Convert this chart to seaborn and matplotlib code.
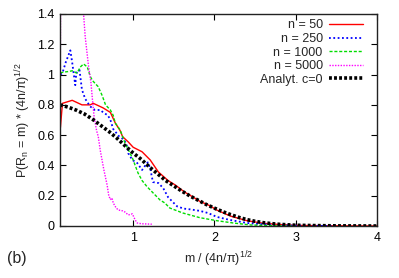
import numpy as np
import pandas as pd
import matplotlib
matplotlib.use("Agg")
import matplotlib.pyplot as plt
import seaborn as sns

# ---- data ----
x50 = [0.105, 0.13, 0.25, 0.37, 0.47, 0.51, 0.63, 0.72, 0.78, 0.84, 0.87, 0.94, 1.0, 1.11, 1.21,
       1.31, 1.43, 1.52, 1.63, 1.74, 1.82, 1.94, 2.03, 2.2, 2.4, 2.6, 2.8, 3.0, 3.3, 3.6, 4.0]
y50 = [0.65, 0.81, 0.83, 0.80, 0.80, 0.81, 0.78, 0.75, 0.68, 0.63, 0.59, 0.555, 0.52, 0.49, 0.436,
       0.357, 0.30, 0.27, 0.225, 0.19, 0.163, 0.135, 0.105, 0.065, 0.035, 0.018, 0.01, 0.004, 0.002, 0.001, 0.0]

x250 = [0.105, 0.13, 0.17, 0.227, 0.25, 0.288, 0.30, 0.34, 0.37, 0.41, 0.47, 0.53, 0.595, 0.632, 0.69,
        0.72, 0.755, 0.83, 0.89, 0.93, 0.94, 0.99, 1.05, 1.11, 1.15, 1.18, 1.21, 1.23, 1.245, 1.31,
        1.37, 1.43, 1.54, 1.62, 1.7, 1.82, 1.92, 2.03, 2.19, 2.4, 2.56, 2.8, 3.0, 3.5]
y250 = [1.00, 1.01, 1.08, 1.16, 1.08, 0.93, 1.01, 1.03, 0.90, 0.84, 0.79, 0.766, 0.766, 0.75, 0.73,
        0.70, 0.64, 0.59, 0.57, 0.52, 0.48, 0.436, 0.416, 0.37, 0.40, 0.42, 0.383, 0.324, 0.29, 0.284,
        0.25, 0.19, 0.13, 0.115, 0.11, 0.10, 0.086, 0.06, 0.04, 0.02, 0.013, 0.005, 0.002, 0.0]

x1000 = [0.105, 0.13, 0.2, 0.25, 0.31, 0.35, 0.39, 0.436, 0.47, 0.50, 0.57, 0.62, 0.66, 0.72, 0.755,
         0.78, 0.84, 0.9, 0.99, 1.06, 1.11, 1.17, 1.21, 1.27, 1.33, 1.39, 1.45, 1.61, 1.82, 2.03, 2.23,
         2.44, 2.7, 3.0]
y1000 = [1.01, 1.015, 1.02, 1.025, 1.01, 1.05, 1.07, 1.05, 0.99, 0.96, 0.92, 0.86, 0.80, 0.766, 0.73,
         0.68, 0.634, 0.548, 0.45, 0.35, 0.30, 0.26, 0.238, 0.205, 0.172, 0.152, 0.119, 0.086, 0.055,
         0.035, 0.02, 0.007, 0.002, 0.0]

x5000 = [0.103, 0.108, 0.15, 0.2, 0.3, 0.36, 0.39, 0.41, 0.45, 0.48, 0.50, 0.52, 0.55, 0.571, 0.595,
         0.64, 0.68, 0.70, 0.72, 0.74, 0.755, 0.79, 0.816, 0.87, 0.90, 0.94, 0.99, 1.025, 1.05, 1.1, 1.23]
y5000 = [0.98, 1.6, 2.3, 2.5, 2.0, 1.6, 1.40, 1.25, 1.06, 0.95, 0.83, 0.72, 0.63, 0.59, 0.50,
         0.37, 0.27, 0.20, 0.175, 0.185, 0.152, 0.12, 0.106, 0.10, 0.092, 0.073, 0.08, 0.04, 0.02, 0.015, 0.012]

xan = [0.1, 0.2, 0.3, 0.4, 0.5, 0.6, 0.7, 0.8, 0.9, 1.0, 1.1, 1.2, 1.3, 1.4, 1.5, 1.6, 1.7, 1.8,
       1.9, 2.0, 2.1, 2.2, 2.3, 2.4, 2.5, 2.6, 2.7, 2.8, 2.9, 3.0, 3.2, 3.5, 4.0]
yan = [0.80, 0.785, 0.765, 0.74, 0.705, 0.665, 0.625, 0.58, 0.53, 0.482, 0.44, 0.39, 0.345, 0.30,
       0.265, 0.23, 0.198, 0.17, 0.142, 0.118, 0.095, 0.075, 0.057, 0.042, 0.031, 0.022, 0.016,
       0.011, 0.008, 0.005, 0.003, 0.001, 0.0]

labels = ["n = 50", "n = 250", "n = 1000", "n = 5000", "Analyt. c=0"]
xticks = [1, 2, 3, 4]
yticks = [0, 0.2, 0.4, 0.6, 0.8, 1.0, 1.2, 1.4]
yticklabels = ["0", "0.2", "0.4", "0.6", "0.8", "1", "1.2", "1.4"]

sns.set_style("ticks")
plt.rcParams["font.family"] = ["Liberation Sans", "DejaVu Sans"]
plt.rcParams["mathtext.default"] = "regular"

fig = plt.figure(figsize=(3.99, 2.78), dpi=100)
ax = fig.add_axes([60 / 399, 1 - 226 / 278, 317 / 399, 212 / 278])

series = [
    (x50, y50, labels[0], "#ff0000", "-", 1.0),
    (x250, y250, labels[1], "#0000ff", (0, (1, 1.4)), 1.3),
    (x1000, y1000, labels[2], "#00dd00", (0, (2.2, 1.3)), 1.0),
    (x5000, y5000, labels[3], "#ff00ff", (0, (1, 1)), 1.0),
    (xan, yan, labels[4], "#000000", (0, (0.8, 0.6)), 2.6),
]
for xs, ys, lab, col, ls, lw in series:
    df = pd.DataFrame({"x": xs, "y": ys})
    sns.lineplot(data=df, x="x", y="y", ax=ax, color=col, linestyle=ls,
                 linewidth=lw, label=lab, estimator=None, sort=False)

ax.set_xlim(0.1, 4)
ax.set_ylim(0, 1.4)
ax.set_xticks(xticks)
ax.set_xticklabels([str(t) for t in xticks])
ax.set_yticks(yticks)
ax.set_yticklabels(yticklabels)
ax.tick_params(direction="in", length=4, width=0.8, top=True, right=True,
               labelsize=9, colors="black", pad=4)
for s in ax.spines.values():
    s.set_color("#222222")
    s.set_linewidth(1.0)

ax.set_xlabel("m / (4n/π)$^{1/2}$", fontsize=9, labelpad=4)
ax.set_ylabel("P(R$_{n}$ = m) * (4n/π)$^{1/2}$", fontsize=9, labelpad=3)

leg = ax.legend(loc="upper right", bbox_to_anchor=(0.955, 0.975), frameon=False,
                markerfirst=False, fontsize=9, handlelength=2.7, handletextpad=0.5,
                labelspacing=0.13, borderaxespad=0, borderpad=0)

fig.text(17 / 399, 1 - 258 / 278, "(b)", fontsize=11.5, ha="center", va="center")

fig.savefig("out.png", dpi=100)
